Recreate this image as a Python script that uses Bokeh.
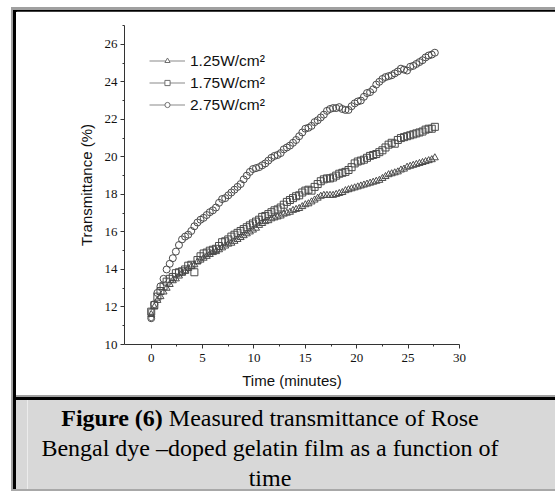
from bokeh.plotting import figure
from bokeh.models import (Range1d, FixedTicker, Legend, LegendItem, Div,
                          ColumnDataSource, CDSView, IndexFilter)
from bokeh.layouts import column, row
from bokeh.embed import file_html
from bokeh.resources import INLINE

# ---------------- data ----------------
time_min = [round(0.3 * i, 1) for i in range(93)]

t_125 = [11.60, 12.00, 12.35, 12.55, 12.80, 13.00, 13.20, 13.40, 13.50, 13.65,
         13.80, 13.90, 14.05, 14.15, 14.25, 14.40, 14.50, 14.60, 14.70, 14.80,
         14.90, 14.95, 15.05, 15.15, 15.25, 15.35, 15.40, 15.50, 15.60, 15.70,
         15.80, 15.90, 16.00, 16.10, 16.20, 16.35, 16.45, 16.55, 16.60, 16.70,
         16.75, 16.80, 16.85, 16.95, 17.00, 17.05, 17.15, 17.20, 17.25, 17.35,
         17.45, 17.50, 17.60, 17.70, 17.80, 17.90, 17.95, 17.95, 17.95, 17.95,
         18.00, 18.05, 18.10, 18.20, 18.25, 18.30, 18.35, 18.40, 18.45, 18.50,
         18.55, 18.60, 18.65, 18.70, 18.75, 18.85, 18.95, 19.05, 19.10, 19.15,
         19.20, 19.30, 19.35, 19.45, 19.50, 19.55, 19.60, 19.65, 19.70, 19.75,
         19.80, 19.85, 19.95]

t_175 = [11.75, 12.10, 12.55, 12.85, 13.10, 13.35, 13.50, 13.60, 13.80, 13.85,
         13.90, 14.00, 14.20, 14.25, 13.85, 14.50, 14.70, 14.85, 14.90, 15.00,
         15.05, 15.10, 15.25, 15.45, 15.50, 15.60, 15.75, 15.85, 15.95, 16.05,
         16.15, 16.25, 16.35, 16.45, 16.55, 16.65, 16.80, 16.85, 16.95, 17.05,
         17.15, 17.20, 17.30, 17.45, 17.60, 17.70, 17.80, 17.90, 17.95, 18.10,
         18.20, 18.25, 18.20, 18.40, 18.55, 18.70, 18.80, 18.85, 18.85, 18.90,
         19.00, 19.10, 19.15, 19.20, 19.30, 19.45, 19.65, 19.75, 19.80, 19.85,
         19.95, 20.05, 20.10, 20.15, 20.25, 20.35, 20.50, 20.65, 20.75, 20.70,
         20.90, 21.00, 21.05, 21.10, 21.15, 21.20, 21.25, 21.30, 21.35, 21.45,
         21.50, 21.50, 21.60]

t_275 = [11.40, 12.15, 12.75, 13.10, 13.50, 14.00, 14.30, 14.60, 14.95, 15.30,
         15.60, 15.75, 15.85, 16.05, 16.30, 16.50, 16.65, 16.75, 16.90, 17.05,
         17.15, 17.30, 17.55, 17.75, 17.80, 17.95, 18.10, 18.25, 18.40, 18.55,
         18.80, 19.00, 19.20, 19.35, 19.40, 19.45, 19.55, 19.65, 19.80, 19.95,
         20.05, 20.10, 20.20, 20.40, 20.50, 20.60, 20.75, 20.90, 21.10, 21.30,
         21.50, 21.55, 21.65, 21.85, 21.95, 22.10, 22.25, 22.45, 22.55, 22.60,
         22.60, 22.65, 22.55, 22.50, 22.50, 22.70, 22.85, 22.95, 23.00, 23.20,
         23.40, 23.45, 23.60, 23.85, 24.00, 24.15, 24.25, 24.30, 24.35, 24.45,
         24.55, 24.70, 24.65, 24.60, 24.80, 24.85, 24.95, 25.05, 25.15, 25.30,
         25.40, 25.45, 25.55]

series_labels = ["1.25W/cm\u00b2", "1.75W/cm\u00b2", "2.75W/cm\u00b2"]
series_markers = ["triangle", "square", "circle"]
x_ticks = [0, 5, 10, 15, 20, 25, 30]
x_minor = [2.5, 7.5, 12.5, 17.5, 22.5, 27.5]
y_ticks = [10, 12, 14, 16, 18, 20, 22, 24, 26]
y_minor = [11, 13, 15, 17, 19, 21, 23, 25, 27]
caption_bold = "Figure (6)"
caption_rest = ["Measured transmittance of Rose",
                "Bengal dye \u2013doped gelatin film as a function of",
                "time"]

# ---------------- figure ----------------
TOTAL_W = 555
LEFT_W = 16
FIG_W = TOTAL_W - LEFT_W
FIG_H = 384
TOP_H = 11
CAP_H = 98

p = figure(width=FIG_W, height=FIG_H, output_backend="svg", toolbar_location=None,
           x_range=Range1d(-2.6, 30), y_range=Range1d(10, 27),
           min_border_left=108, min_border_right=96,
           min_border_top=14, min_border_bottom=51)
p.title.visible = False
p.grid.visible = False
p.outline_line_color = None
p.background_fill_color = "white"
p.border_fill_color = "white"

p.xaxis.ticker = FixedTicker(ticks=x_ticks, minor_ticks=x_minor)
p.yaxis.ticker = FixedTicker(ticks=y_ticks, minor_ticks=y_minor)
p.xaxis.axis_label = "Time (minutes)"
p.yaxis.axis_label = "Transmittance (%)"
for ax in (p.xaxis[0], p.yaxis[0]):
    ax.axis_line_color = "#333333"
    ax.axis_line_width = 1
    ax.major_tick_line_color = "#333333"
    ax.minor_tick_line_color = "#333333"
    ax.major_tick_in = 0
    ax.major_tick_out = 4
    ax.minor_tick_in = 0
    ax.minor_tick_out = 2
    ax.major_label_text_font = "Liberation Serif"
    ax.major_label_text_font_size = "13px"
    ax.major_label_text_color = "#111111"
    ax.axis_label_text_font = "Liberation Sans"
    ax.axis_label_text_font_size = "15px"
    ax.axis_label_text_font_style = "normal"
    ax.axis_label_text_color = "#111111"
    ax.axis_label_standoff = 7
p.xaxis.major_label_standoff = 5
p.yaxis.major_label_standoff = 3

series = [t_125, t_175, t_275]
items = []
for vals, mk, lab in zip(series, series_markers, series_labels):
    src = ColumnDataSource(dict(t=time_min, v=vals))
    # legend-only renderers: show only the first sample, drawn underneath the data
    first_only = CDSView(filter=IndexFilter([0]))
    lr = p.line("t", "v", source=src, view=first_only, line_color="#8a8a8a",
                line_width=1.2, level="underlay")
    sr = p.scatter("t", "v", source=src, view=first_only, marker=mk, size=5,
                   fill_color="white", line_color="#707070", line_width=1,
                   level="underlay")
    p.scatter("t", "v", source=src, marker=mk, size=7, fill_color=None,
              line_color="#4a4a4a", line_width=1)
    items.append(LegendItem(label=lab, renderers=[lr, sr]))

legend = Legend(items=items, location=(25, 229), orientation="vertical",
                glyph_width=36, glyph_height=13, label_height=21,
                label_standoff=5, spacing=1, padding=0, margin=0,
                border_line_color=None, background_fill_alpha=0,
                label_text_font="Liberation Sans", label_text_font_size="15.5px",
                label_text_color="#111111")
p.add_layout(legend, "center")


# ---------------- table-like frame (HTML) ----------------
def strip(left, top, w, h, color):
    return ('<div style="position:absolute;left:%spx;top:%spx;width:%spx;height:%spx;'
            'background:%s"></div>' % (left, top, w, h, color))


top_html = ('<div style="position:relative;width:%dpx;height:%dpx;background:#fff;overflow:hidden;">'
            % (TOTAL_W, TOP_H)
            + strip(11, 6, TOTAL_W, 3, "#a0a0a0")
            + strip(13, 8.5, TOTAL_W, 2.5, "#000000")
            + strip(11, 6, 2, 6, "#a0a0a0")
            + '</div>')
top_div = Div(text=top_html, width=TOTAL_W, height=TOP_H, margin=0)

left_html = ('<div style="position:relative;width:%dpx;height:%dpx;background:#fff;overflow:hidden;">'
             % (LEFT_W, FIG_H)
             + strip(11, 0, 2, FIG_H, "#a0a0a0")
             + strip(13, 0, 3, FIG_H, "#000000")
             + '</div>')
left_div = Div(text=left_html, width=LEFT_W, height=FIG_H, margin=0)

cap_html = (
    '<div style="position:relative;width:%dpx;height:%dpx;background:#ffffff;overflow:hidden;">'
    % (TOTAL_W, CAP_H)
    + strip(16, 0, TOTAL_W, 94, "#d8d8d8")
    + strip(11, 0, TOTAL_W, 2, "#a0a0a0")
    + strip(13, 2, TOTAL_W, 3, "#000000")
    + strip(11, 0, 2, 96, "#a0a0a0")
    + strip(13, 0, 3, 94, "#000000")
    + strip(27, 5, 1, 89, "#ececec")
    + strip(11, 94, TOTAL_W, 2, "#a8a8a8")
    + '<div style="position:absolute;left:16px;top:5px;width:508px;padding-top:3px;text-align:center;'
      'font-family:\'Liberation Serif\',serif;font-size:24px;line-height:30px;color:#000;white-space:nowrap;">'
    + '<b>%s</b> %s<br>%s<br>%s</div>' % (caption_bold, caption_rest[0], caption_rest[1], caption_rest[2])
    + '</div>'
)
cap = Div(text=cap_html, width=TOTAL_W, height=CAP_H, margin=0)

layout = column(top_div, row(left_div, p, spacing=0), cap, spacing=0)
open("out.html", "w").write(file_html(layout, INLINE))
